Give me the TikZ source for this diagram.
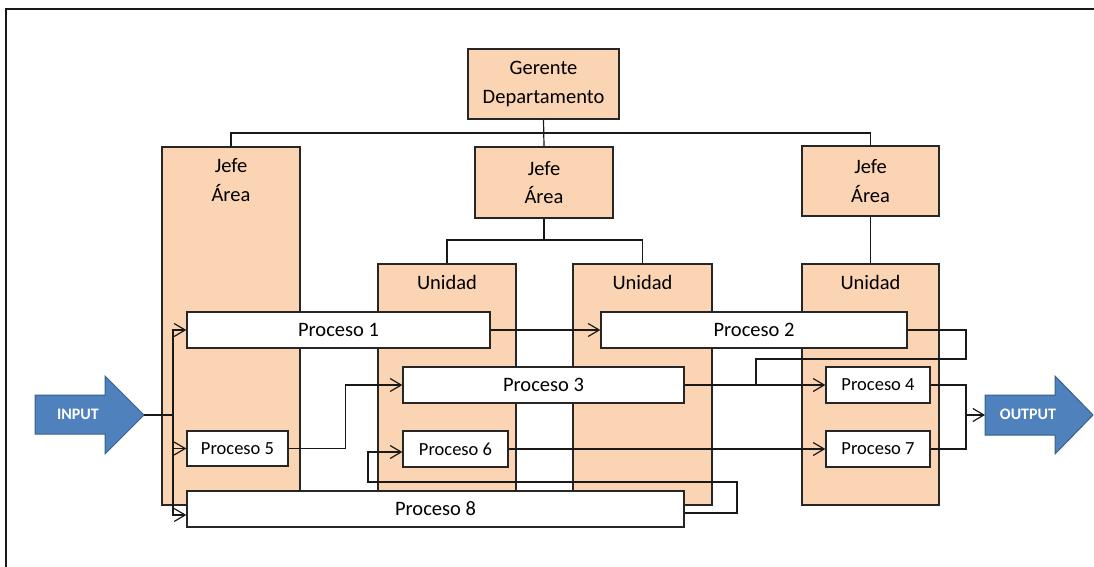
\documentclass[tikz,border=0pt]{standalone}
\usepackage{fontspec}
\setmainfont{Carlito}
\usetikzlibrary{arrows.meta}
\definecolor{peach}{HTML}{FBD4B4}
\definecolor{arrowblue}{HTML}{4F81BD}
\definecolor{arrowedge}{HTML}{3A5F8B}
\begin{document}
\begin{tikzpicture}[x=1pt,y=-1pt,
  orgbox/.style={draw=black!85, fill=peach, line width=1.4pt, inner sep=0pt, align=center,
    font=\fontsize{20.5}{28.5}\selectfont},
  panel/.style={draw=black!85, fill=peach, line width=1.4pt, inner sep=0pt},
  title/.style={inner sep=0pt, align=center, font=\fontsize{20.5}{28.5}\selectfont},
  procbox/.style={draw=black!85, fill=white, line width=1.4pt, inner sep=0pt,
    minimum height=36pt, font=\fontsize{20.5}{24}\selectfont},
  smallproc/.style={procbox, font=\fontsize{18.5}{22}\selectfont},
  link/.style={draw=black!90, line width=1.2pt},
  flow/.style={link, -{Straight Barb[length=11pt,width=13pt,line width=1.2pt]}},
  bigarrow/.style={fill=arrowblue, draw=arrowedge, line width=1pt, line join=miter},
  arrowtext/.style={text=white, inner sep=0pt, font=\fontsize{16}{18}\selectfont\bfseries}
]
\useasboundingbox (0,0) rectangle (1094,567);

% page frame
\draw[line width=2pt, black!90] (6,567) -- (6,9) -- (1094,9);

% organisation chart
\node[orgbox, minimum width=151pt, minimum height=70pt] (ger) at (543.5,84) {Gerente\\Departamento};
\node[panel, minimum width=138pt, minimum height=358pt] (jefe1) at (231,326) {};
\node[orgbox, minimum width=138pt, minimum height=71pt] (jefe2) at (544,182.5) {Jefe\\Área};
\node[orgbox, minimum width=137pt, minimum height=70pt] (jefe3) at (870.5,181) {Jefe\\Área};
\node[panel, minimum width=138pt, minimum height=241pt] (uni1) at (447,384.5) {};
\node[panel, minimum width=139pt, minimum height=241pt] (uni2) at (642.5,384.5) {};
\node[panel, minimum width=137pt, minimum height=241pt] (uni3) at (870.5,384.5) {};

\node[title, anchor=north] (jefe1t) at ([yshift=-12pt]jefe1.north) {Jefe\\Área};
\node[title, anchor=north] (uni1t) at ([yshift=-12pt]uni1.north) {Unidad};
\node[title, anchor=north] (uni2t) at ([yshift=-12pt]uni2.north) {Unidad};
\node[title, anchor=north] (uni3t) at ([yshift=-12pt]uni3.north) {Unidad};

% reporting lines
\coordinate (bus1) at (543.5,133);
\coordinate (bus2) at (544,240);
\draw[link] (ger.south) -- (jefe2.north);
\draw[link] (jefe1.north) |- (bus1) -| (jefe3.north);
\draw[link] (jefe2.south) -- (bus2);
\draw[link] (uni1.north) |- (bus2) -| (uni2.north);
\draw[link] (jefe3.south) -- (uni3.north);

% processes
\node[procbox, minimum width=303pt] (p1) at (338.5,330) {Proceso 1};
\node[procbox, minimum width=306pt] (p2) at (754,330) {Proceso 2};
\node[procbox, minimum width=281pt] (p3) at (543.5,385) {Proceso 3};
\node[smallproc, minimum width=104pt] (p4) at (878,385) {Proceso 4};
\node[smallproc, minimum width=101pt, minimum height=35pt] (p5) at (237.5,448.5) {Proceso 5};
\node[smallproc, minimum width=105pt] (p6) at (455.5,449) {Proceso 6};
\node[smallproc, minimum width=104pt] (p7) at (878,449) {Proceso 7};
\node[procbox, minimum width=497pt] (p8) at (435.5,509) {Proceso 8};

% input and output arrows
\coordinate (inTip) at (144,415);
\coordinate (outTail) at (985,415);
\draw[bigarrow] (35,395) -- (105,395) -- (105,376) -- (inTip) -- (105,454) -- (105,434) -- (35,434) -- cycle;
\draw[bigarrow] (outTail) |- (1055,395) -- (1055,376) -- (1093,415) -- (1055,454) -- (1055,435) -| (outTail) -- cycle;
\node[arrowtext] (input) at (78,414) {INPUT};
\node[arrowtext] (output) at (1028,414) {OUTPUT};

% process flow
\coordinate (fork) at (173,415);
\draw[link] (inTip) -- (fork);
\draw[flow] (fork) |- (p1.west);
\draw[flow] (fork) |- (p5.west);
\draw[flow] (fork) |- ([yshift=-6pt]p8.west);
\draw[flow] (p1.east) -- (p2.west);
\draw[flow] (p5.east) -- ++(57,0) |- (p3.west);
\draw[flow] (p3.east) -- (p4.west);
\coordinate (loop2) at (966,359);
\coordinate (join4) at (756,385);
\draw[link] (p2.east) -| (loop2) -| (join4);
\draw[flow] (p6.east) -- (p7.west);
\coordinate (loop8) at (737,482);
\coordinate (loop8b) at (368,482);
\draw[flow] ([yshift=-4pt]p8.east) -| (loop8) -- (loop8b) |- ([yshift=-3pt]p6.west);
\coordinate (outBus) at (966,415);
\draw[link] (p4.east) -| (outBus);
\draw[link] (p7.east) -| (outBus);
\draw[flow] (outBus) -- (outTail);
\end{tikzpicture}
\end{document}
